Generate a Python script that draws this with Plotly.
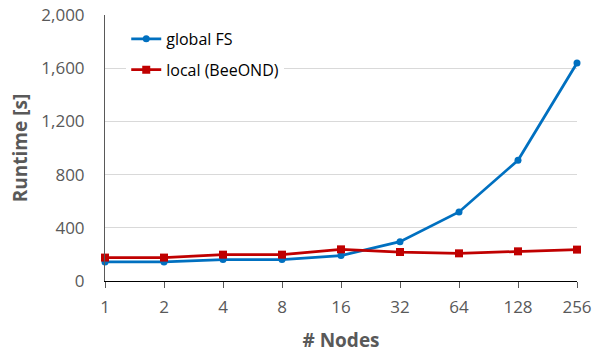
import plotly.graph_objects as go

nodes = ["1", "2", "4", "8", "16", "32", "64", "128", "256"]
global_fs = [143, 143, 161, 161, 191, 296, 519, 908, 1639]
local_beeond = [176, 176, 198, 198, 238, 218, 208, 223, 236]
y_ticks = [0, 400, 800, 1200, 1600, 2000]

FONT = "Open Sans"

fig = go.Figure()
fig.add_trace(go.Scatter(
    x=nodes, y=global_fs, name="global FS", mode="lines+markers",
    line=dict(color="#0070C0", width=2.75),
    marker=dict(symbol="circle", size=7, color="#0070C0"),
    legend="legend",
    cliponaxis=False,
))
fig.add_trace(go.Scatter(
    x=nodes, y=local_beeond, name="local (BeeOND)", mode="lines+markers",
    line=dict(color="#C00000", width=2.75),
    marker=dict(symbol="square", size=8, color="#C00000"),
    legend="legend2",
    cliponaxis=False,
))

legend_common = dict(
    font=dict(family=FONT, size=16, color="#000000"),
    bgcolor="rgba(255,255,255,1)",
    xanchor="left", yanchor="middle", xref="paper", yref="paper",
    itemwidth=30,
)

fig.update_layout(
    width=592, height=356,
    margin=dict(l=105, r=15, t=15, b=75, autoexpand=False),
    paper_bgcolor="white", plot_bgcolor="white",
    font=dict(family=FONT),
    showlegend=True,
    legend=dict(x=0.045, y=0.91, **legend_common),
    legend2=dict(x=0.045, y=0.794, **legend_common),
    xaxis=dict(
        type="category", range=[0, 8], automargin=False,
        showline=True, linecolor="#000000", linewidth=1,
        ticks="outside", ticklen=6, tickcolor="#595959",
        ticklabelstandoff=5,
        tickfont=dict(family=FONT, size=17, color="#595959"),
        showgrid=False, zeroline=False,
        title=dict(text="<b># Nodes</b>", font=dict(family=FONT, size=19, color="#595959"), standoff=16),
    ),
    yaxis=dict(
        range=[0, 2000], tickvals=y_ticks, tickformat=",", automargin=False,
        showline=True, linecolor="#595959", linewidth=1,
        showgrid=True, gridcolor="#D9D9D9", gridwidth=1,
        zeroline=False, ticks="",
        ticklabelstandoff=16,
        tickfont=dict(family=FONT, size=17, color="#595959"),
        title=dict(text="<b>Runtime [s]</b>", font=dict(family=FONT, size=19, color="#595959"), standoff=8),
    ),
)

fig.write_html("out.html")
